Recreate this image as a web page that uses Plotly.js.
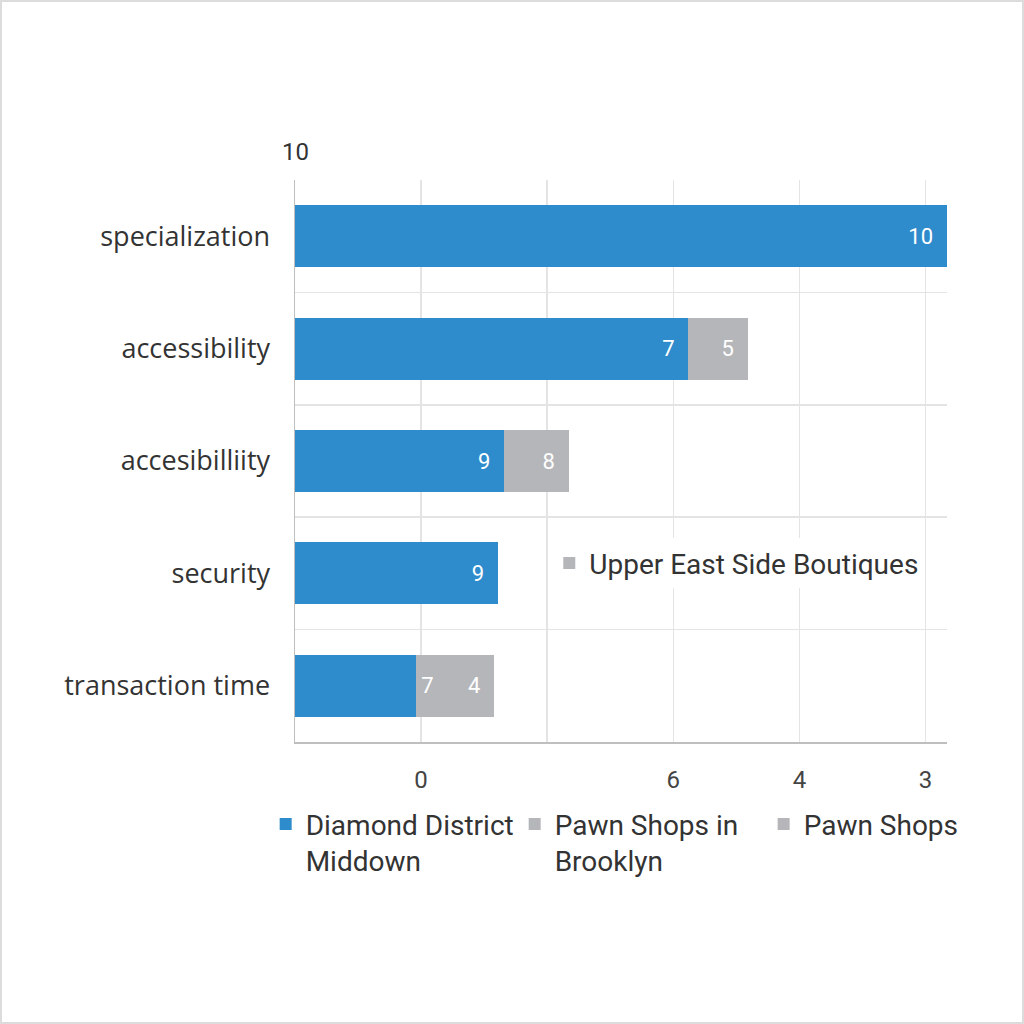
<!DOCTYPE html>
<html>
<head>
<meta charset="utf-8">
<script src="https://cdn.plot.ly/plotly-3.0.1.min.js"></script>
<style>
  html, body { margin: 0; padding: 0; background: #ffffff; }
  #chart { width: 1024px; height: 1024px; }
  #frame { position: absolute; left: 0; top: 0; width: 1024px; height: 1024px; box-sizing: border-box; border: 2px solid #dcdcdc; pointer-events: none; }
</style>
</head>
<body>
<div id="chart"></div>
<div id="frame"></div>
<script>
// Categories (top to bottom)
const categories = ["specialization", "accessibility", "accesibilliity", "security", "transaction time"];

// Bar lengths (in axis units, gridline spacing = 1)
const diamondValues  = [5.17, 3.12, 1.66, 1.61, 0.96];
const brooklynValues = [null, 0.47, 0.51, null, 0.25];
const pawnValues     = [null, null, null, null, 0.37];
const upperEastValues = [null, null, null, null, null];

// Labels printed on the bars
const diamondLabels  = ["10", "7", "9", "9", ""];
const brooklynLabels = ["", "5", "8", "", "7"];
const pawnLabels     = ["", "", "", "", "4"];

// X tick labels as shown
const xTickVals = [0, 1, 2, 3, 4, 5];
const xTickText = ["", "0", "", "6", "4", "3"];

const blue = "#2e8bcc";
const gray = "#b5b6b9";

function barTrace(name, values, labels, color, legend) {
  return {
    type: "bar",
    orientation: "h",
    name: name,
    y: categories,
    x: values,
    text: labels,
    texttemplate: "%{text}\u00a0\u00a0",
    textposition: "inside",
    insidetextanchor: "end",
    textangle: 0,
    insidetextfont: { family: "Roboto, sans-serif", size: 22, color: "#ffffff" },
    marker: { color: color, line: { width: 0 } },
    legend: legend || "legend",
    hoverinfo: "x+y+name"
  };
}

const data = [
  barTrace("Diamond District<br>Middown", diamondValues, diamondLabels, blue),
  barTrace("Pawn Shops in<br>Brooklyn", brooklynValues, brooklynLabels, gray),
  barTrace("Pawn Shops", pawnValues, pawnLabels, gray),
  barTrace("Upper East Side Boutiques", upperEastValues, ["", "", "", "", ""], gray, "legend2")
];

const layout = {
  width: 1024,
  height: 1024,
  paper_bgcolor: "#ffffff",
  plot_bgcolor: "#ffffff",
  barmode: "stack",
  bargap: 0.45,
  margin: { l: 295, r: 77, t: 180, b: 282 },
  font: { family: "Roboto, sans-serif", color: "#333333" },
  xaxis: {
    range: [0, 5.17],
    tickvals: xTickVals,
    ticktext: xTickText,
    showgrid: true,
    gridcolor: "#e4e4e4",
    gridwidth: 1.5,
    zeroline: false,
    showline: true,
    linecolor: "#bfbfbf",
    linewidth: 1.5,
    ticks: "outside",
    ticklen: 16,
    tickcolor: "rgba(0,0,0,0)",
    tickfont: { family: "Roboto, sans-serif", size: 24, color: "#444444" },
    fixedrange: true
  },
  yaxis: {
    type: "category",
    autorange: "reversed",
    tickson: "boundaries",
    showgrid: true,
    gridcolor: "#e4e4e4",
    gridwidth: 1.5,
    zeroline: false,
    showline: true,
    linecolor: "#bfbfbf",
    linewidth: 1.5,
    ticks: "",
    ticklabelstandoff: 18,
    tickfont: { family: "'Open Sans', sans-serif", size: 27, color: "#333333" },
    fixedrange: true
  },
  showlegend: true,
  legend: {
    orientation: "h",
    x: -0.045,
    xanchor: "left",
    y: -0.102,
    yanchor: "top",
    valign: "top",
    entrywidth: 204,
    entrywidthmode: "pixels",
    itemwidth: 30,
    font: { family: "Roboto, sans-serif", size: 28, color: "#333333" },
    bgcolor: "rgba(255,255,255,0)",
    traceorder: "normal"
  },
  legend2: {
    x: 0.39,
    xanchor: "left",
    y: 0.318,
    yanchor: "middle",
    bgcolor: "#ffffff",
    font: { family: "Roboto, sans-serif", size: 28, color: "#333333" },
    itemwidth: 30
  },
  annotations: [
    {
      text: "10",
      xref: "paper", yref: "paper",
      x: 0, y: 1.05,
      xanchor: "center", yanchor: "middle",
      showarrow: false,
      font: { family: "Roboto, sans-serif", size: 24, color: "#333333" }
    }
  ]
};

Plotly.newPlot("chart", data, layout, { displayModeBar: false, staticPlot: true });
</script>
</body>
</html>
